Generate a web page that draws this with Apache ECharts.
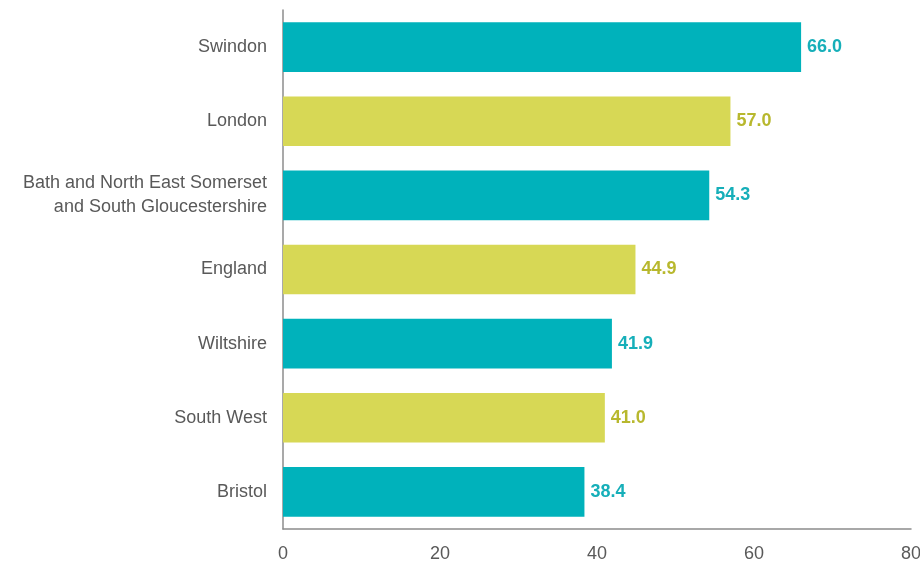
<!DOCTYPE html>
<html>
<head>
<meta charset="utf-8">
<script src="https://cdn.jsdelivr.net/npm/echarts@6/dist/echarts.min.js"></script>
<style>
  html, body { margin: 0; padding: 0; background: #fff; overflow: hidden; }
  #chart { width: 920px; height: 566px; }
</style>
</head>
<body>
<div id="chart"></div>
<script>
// Areas, top to bottom
const areas = [
  'Swindon',
  'London',
  'Bath and North East Somerset\nand South Gloucestershire',
  'England',
  'Wiltshire',
  'South West',
  'Bristol'
];
const rates = [66.0, 57.0, 54.3, 44.9, 41.9, 41.0, 38.4];
const axisTicks = [0, 20, 40, 60, 80];

// Alternating bar / label colours
const barColors = ['#00B2BB', '#D7D855'];
const labelColors = ['#16AFB9', '#B8B82E'];

const chart = echarts.init(document.getElementById('chart'));

const data = rates.map((v, i) => ({
  value: v,
  itemStyle: { color: barColors[i % 2] },
  label: { color: labelColors[i % 2] }
}));

const font = 'Liberation Sans, Arial, sans-serif';

chart.setOption({
  animation: false,
  grid: {
    left: 283, right: 9, top: 10, bottom: 37,
    containLabel: false,
    outerBoundsMode: 'none'
  },
  xAxis: {
    type: 'value',
    min: axisTicks[0],
    max: axisTicks[axisTicks.length - 1],
    interval: axisTicks[1] - axisTicks[0],
    splitLine: { show: false },
    axisTick: { show: false },
    axisLine: { show: true, lineStyle: { color: '#8C8C8C', width: 1.5 } },
    axisLabel: {
      color: '#595959',
      fontFamily: font,
      fontSize: 18,
      margin: 16
    }
  },
  yAxis: {
    type: 'category',
    inverse: true,
    data: areas,
    axisTick: { show: false },
    axisLine: { show: true, lineStyle: { color: '#8C8C8C', width: 1.5 } },
    axisLabel: {
      color: '#595959',
      fontFamily: font,
      fontSize: 18,
      lineHeight: 24,
      margin: 16,
      align: 'right'
    }
  },
  series: [{
    type: 'bar',
    data: data,
    barWidth: '67%',
    label: {
      show: true,
      position: 'right',
      distance: 6,
      fontFamily: font,
      fontSize: 18,
      fontWeight: 'bold',
      formatter: p => p.value.toFixed(1)
    }
  }]
});
</script>
</body>
</html>
